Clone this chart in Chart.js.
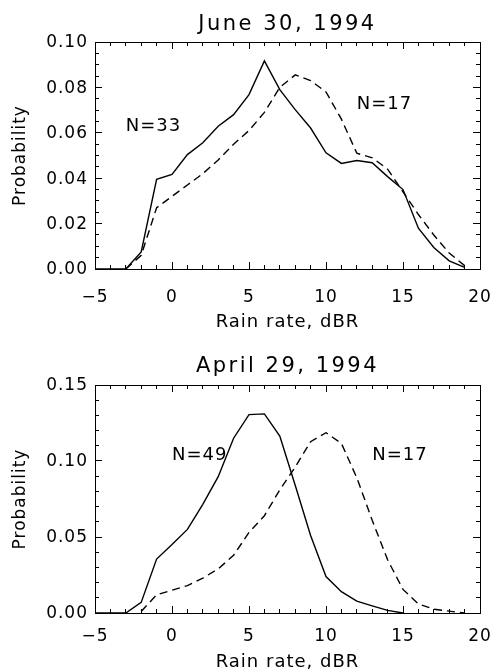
<!DOCTYPE html>
<html><head><meta charset="utf-8">
<script src="https://cdn.jsdelivr.net/npm/chart.js@4.4.1/dist/chart.umd.min.js"></script>
<style>
html,body{margin:0;padding:0;background:#fff;}
#wrap{position:relative;width:494px;height:671px;overflow:hidden;background:#fff;}
canvas{position:absolute;left:0;}
</style></head><body>
<div id="wrap">
<canvas id="c1" width="494" height="338" style="top:0px"></canvas>
<canvas id="c2" width="494" height="333" style="top:338px"></canvas>
</div>
<script>
// ---- data (rain rate in dBR, probability) ----
const rainRate = [-5,-4,-3,-2,-1,0,1,2,3,4,5,6,7,8,9,10,11,12,13,14,15,16,17,18,19];
const juneN33 = [0,0,0,0.0075,0.0395,0.0417,0.0504,0.0556,0.0629,0.068,0.0768,0.0917,0.079,0.0702,0.0621,0.0512,0.0465,0.0478,0.0468,0.0407,0.035,0.018,0.0095,0.0036,0.0007];
const juneN17 = [null,null,0,0.006,0.027,0.032,0.037,0.042,0.048,0.055,0.061,0.069,0.080,0.0855,0.083,0.078,0.066,0.051,0.049,0.044,0.034,0.024,0.015,0.007,0.0015];
const aprilN49 = [0,0,0,0.007,0.0355,0.045,0.055,0.0715,0.0897,0.115,0.1305,0.131,0.1164,0.084,0.051,0.024,0.014,0.0078,0.0047,0.0017,0,null,null,null,null];
const aprilN17 = [null,null,null,0.001,0.012,0.015,0.018,0.023,0.029,0.038,0.053,0.064,0.081,0.096,0.1127,0.1186,0.1116,0.089,0.061,0.035,0.0155,0.006,0.0025,0.0012,0];

const xTickValues = [-5,0,5,10,15,20];
const xTickLabels = ['\u22125','0','5','10','15','20'];
const juneYTickValues = [0,0.02,0.04,0.06,0.08,0.10];
const juneYTickLabels = ['0.00','0.02','0.04','0.06','0.08','0.10'];
const aprilYTickValues = [0,0.05,0.10,0.15];
const aprilYTickLabels = ['0.00','0.05','0.10','0.15'];
const juneNotes = [{text:'N=33',x:-3,y:0.063},{text:'N=17',x:12,y:0.0725}];
const aprilNotes = [{text:'N=49',x:0,y:0.1035},{text:'N=17',x:13,y:0.1035}];

const FONT = 'DejaVu Sans';

const notesPlugin = {
  id:'notes',
  afterDatasetsDraw(chart, args, opts){
    const {ctx} = chart; const x = chart.scales.x, y = chart.scales.y;
    ctx.save();
    ctx.letterSpacing = '1px';
    ctx.font = '18px "' + FONT + '"';
    ctx.fillStyle = '#000'; ctx.textAlign = 'left'; ctx.textBaseline = 'middle';
    (opts.items || []).forEach(n => ctx.fillText(n.text, x.getPixelForValue(n.x), y.getPixelForValue(n.y)));
    ctx.restore();
  }
};
const spacingPlugin = {
  id:'spacing',
  afterInit(chart){
    const tb = chart.titleBlock;
    if (tb){
      const orig = tb.draw;
      tb.draw = function(...a){ const c = this.ctx; const prev = c.letterSpacing; c.letterSpacing = '2.5px'; orig.apply(this, a); c.letterSpacing = prev; };
    }
  },
  beforeUpdate(chart){ chart.ctx.letterSpacing = '1px'; },
  beforeDraw(chart){ chart.ctx.letterSpacing = '1px'; }
};

function tickGrid(len){
  return {drawOnChartArea:false, drawTicks:true, tickLength:-len, color:'#000', tickColor:'#000', lineWidth:1, tickWidth:1};
}
function zeroPad(s){ s.paddingLeft = 0; s.paddingRight = 0; s.paddingTop = 0; s.paddingBottom = 0; }
const fixH = h => s => { s.height = h; zeroPad(s); };
const fixW = w => s => { s.width = w; zeroPad(s); };
const setTicks = vals => s => { s.ticks = vals.map(v => ({value:v})); };

function makeScales(p){
  const hidden = {display:false};
  return {
    x: {type:'linear', position:'bottom', weight:1, min:-5, max:20,
        afterBuildTicks: setTicks(xTickValues),
        ticks:{callback:(v,i)=>xTickLabels[i], autoSkip:false, maxRotation:0, padding:p.xTickPad, color:'#000', font:{family:FONT,size:17,lineHeight:1}},
        grid: tickGrid(7), border:{display:true,color:'#000',width:1},
        title:{display:true, text:'Rain rate, dBR', color:'#000', font:{family:FONT,size:18,lineHeight:1}, padding:{top:0,bottom:p.xTitlePad}},
        afterFit: fixH(p.xH)},
    xMinor: {type:'linear', position:'bottom', weight:0, min:-5, max:20,
        ticks:{display:false, stepSize:1}, grid: tickGrid(4), border: hidden, afterFit: fixH(0)},
    xTop: {type:'linear', position:'top', weight:0, min:-5, max:20,
        afterBuildTicks: setTicks(xTickValues),
        ticks:{display:false}, grid: tickGrid(7), border:{display:true,color:'#000',width:1}, afterFit: fixH(0)},
    xTopMinor: {type:'linear', position:'top', weight:0, min:-5, max:20,
        ticks:{display:false, stepSize:1}, grid: tickGrid(4), border: hidden, afterFit: fixH(0)},
    y: {type:'linear', position:'left', weight:1, min:0, max:p.yMax,
        afterBuildTicks: setTicks(p.yVals),
        ticks:{callback:(v,i)=>p.yLabels[i], autoSkip:false, padding:14, labelOffset:1, color:'#000', font:{family:FONT,size:17,lineHeight:1}},
        grid: tickGrid(7), border:{display:true,color:'#000',width:1},
        title:{display:true, text:'Probability', color:'#000', font:{family:FONT,size:17,lineHeight:1}, padding:{top:12.5,bottom:0}},
        afterFit: fixW(95)},
    yMinor: {type:'linear', position:'left', weight:0, min:0, max:p.yMax,
        ticks:{display:false, stepSize:p.yMinor}, grid: tickGrid(4), border: hidden, afterFit: fixW(0)},
    yRight: {type:'linear', position:'right', weight:0, min:0, max:p.yMax,
        afterBuildTicks: setTicks(p.yVals),
        ticks:{display:false}, grid: tickGrid(7), border:{display:true,color:'#000',width:1}, afterFit: fixW(0)},
    yRightMinor: {type:'linear', position:'right', weight:0, min:0, max:p.yMax,
        ticks:{display:false, stepSize:p.yMinor}, grid: tickGrid(4), border: hidden, afterFit: fixW(0)}
  };
}

function series(ys, dashed){
  return {
    data: rainRate.map((x,i)=>({x:x, y:ys[i]})).filter(d => d.y !== null),
    xAxisID:'x', yAxisID:'y',
    borderColor:'#000', backgroundColor:'#000', borderWidth:1.4,
    borderDash: dashed ? [8,5] : [],
    pointRadius:0, tension:0, fill:false, clip:false
  };
}

function makeChart(id, p){
  return new Chart(document.getElementById(id), {
    type:'line',
    data:{datasets:[series(p.solid,false), series(p.dashed,true)]},
    options:{
      responsive:false, animation:false, events:[],
      layout:{padding:{left:0,right:14,top:0,bottom:0}, autoPadding:false},
      scales: makeScales(p),
      plugins:{
        legend:{display:false}, tooltip:{enabled:false},
        title:{display:true, fullSize:false, text:p.title, color:'#000', font:{family:FONT,size:21,weight:'normal',lineHeight:1.2}, padding:{top:p.tPadTop,bottom:p.tPadBottom}},
        notes:{items:p.notes}
      }
    },
    plugins:[spacingPlugin, notesPlugin]
  });
}

makeChart('c1', {title:'June 30, 1994', solid:juneN33, dashed:juneN17, notes:juneNotes,
  yMax:0.10, yVals:juneYTickValues, yLabels:juneYTickLabels, yMinor:0.005,
  xTickPad:27, xTitlePad:6.5, xH:69, tPadTop:12.4, tPadBottom:4.4});
makeChart('c2', {title:'April 29, 1994', solid:aprilN49, dashed:aprilN17, notes:aprilNotes,
  yMax:0.15, yVals:aprilYTickValues, yLabels:aprilYTickLabels, yMinor:0.01,
  xTickPad:22.2, xTitlePad:-0.5, xH:58, tPadTop:15.9, tPadBottom:5.9});
</script>
</body></html>
